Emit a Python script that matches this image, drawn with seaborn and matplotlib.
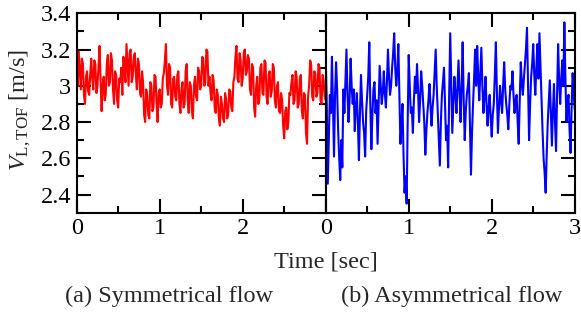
import numpy as np
import pandas as pd
import matplotlib
matplotlib.use("Agg")
import matplotlib.pyplot as plt
from matplotlib.ticker import MultipleLocator
import seaborn as sns

# =========================
# DATA (read from the figure, 0 - 3 s, evenly sampled)
# =========================

t_end = 3.0

v_symmetrical = [
    3.05, 3.00, 3.19, 3.08, 2.98, 3.15, 3.12, 2.95, 2.90, 3.05,
    3.08, 2.97, 2.95, 3.06, 3.15, 3.04, 2.98, 3.14, 3.12, 2.96,
    3.00, 3.10, 3.22, 3.04, 2.86, 3.00, 3.05, 2.92, 2.95, 3.12,
    3.17, 3.00, 3.02, 3.18, 3.14, 2.98, 2.90, 3.08, 3.06, 2.92,
    2.88, 3.04, 3.02, 3.10, 2.95, 3.16, 3.10, 3.02, 3.23, 3.12,
    3.00, 3.18, 3.20, 3.02, 3.05, 3.16, 3.18, 3.06, 2.98, 3.15,
    3.12, 2.96, 2.94, 3.08, 3.02, 2.84, 2.80, 2.98, 2.95, 2.84,
    2.82, 3.02, 3.00, 2.86, 2.88, 3.06, 3.05, 2.90, 2.80, 2.96,
    2.98, 2.88, 2.90, 3.04, 3.07, 3.14, 3.23, 3.00, 2.95, 3.12,
    3.10, 2.90, 2.88, 3.04, 3.05, 2.94, 2.92, 3.06, 3.08, 2.90,
    2.85, 2.98, 3.02, 2.88, 2.90, 3.08, 3.12, 2.92, 2.85, 3.02,
    3.00, 2.86, 2.82, 3.00, 3.05, 2.94, 2.92, 3.10, 3.08, 2.98,
    3.00, 3.16, 3.15, 3.00, 3.02, 3.20, 3.19, 3.00, 3.05, 2.96,
    2.92, 3.06, 3.03, 2.88, 2.85, 2.98, 2.95, 2.82, 2.78, 2.94,
    2.90, 2.82, 2.80, 2.96, 2.93, 2.82, 2.84, 2.98, 2.97, 2.88,
    2.86, 3.02, 3.05, 3.16, 3.22, 3.04, 3.02, 3.18, 3.14, 3.00,
    3.04, 3.18, 3.20, 3.06, 3.08, 3.17, 3.15, 2.98, 2.95, 3.12,
    3.10, 2.88, 2.83, 3.00, 3.05, 2.90, 2.92, 3.10, 3.12, 2.96,
    2.95, 3.14, 3.13, 2.94, 2.90, 3.06, 3.08, 2.94, 2.97, 3.12,
    3.10, 2.92, 2.88, 3.00, 3.02, 2.86, 2.85, 2.96, 2.92, 2.78,
    2.71, 2.86, 2.88, 2.76, 2.80, 2.96, 2.95, 3.02, 3.06, 2.90,
    2.92, 3.08, 3.05, 2.88, 2.90, 3.04, 3.06, 2.86, 2.82, 2.96,
    2.95, 2.74, 2.68, 2.94, 3.00, 3.14, 3.12, 2.94, 2.92, 3.08,
    3.07, 2.94, 2.96, 3.12, 3.10, 2.92, 2.90, 3.06, 3.03, 2.94,
    2.92,
]

v_asymmetrical = [
    3.16, 2.90, 2.46, 2.70, 2.95, 2.85, 3.16, 2.90, 2.61, 2.95,
    3.13, 2.98, 2.75, 2.60, 2.48, 2.70, 2.55, 2.98, 2.85, 3.02,
    3.20, 2.95, 2.80, 2.92, 3.15, 3.00, 2.90, 2.98, 2.75, 2.88,
    2.96, 2.80, 2.59, 2.85, 3.06, 2.92, 2.80, 2.74, 2.61, 2.86,
    2.95, 3.05, 3.24, 2.90, 2.65, 2.84, 2.98, 3.02, 2.85, 2.92,
    2.68, 2.90, 3.11, 3.00, 2.90, 2.96, 3.08, 2.96, 2.88, 3.02,
    3.20, 3.05, 2.95, 3.00, 3.10, 3.18, 3.29, 3.10, 3.00, 3.08,
    3.23, 2.96, 2.68, 2.78, 2.90, 2.62, 2.41, 2.50, 2.35, 2.80,
    3.17, 3.00, 2.85, 2.88, 2.74, 2.92, 3.05, 2.96, 3.12, 2.98,
    2.80, 2.92, 3.08, 3.00, 2.90, 2.80, 2.62, 2.75, 2.85, 2.92,
    3.01, 2.90, 2.78, 2.88, 2.95, 3.08, 3.20, 3.00, 2.85, 2.70,
    2.56, 2.80, 2.95, 3.02, 3.10, 2.90, 2.70, 2.78, 2.55, 2.95,
    3.29, 3.00, 2.74, 2.90, 3.05, 2.96, 2.85, 3.00, 3.14, 2.96,
    2.80, 3.00, 3.24, 2.92, 2.70, 2.86, 2.95, 3.00, 3.07, 2.80,
    2.51, 2.74, 2.90, 3.04, 3.20, 3.00, 3.22, 3.05, 2.92, 3.06,
    3.21, 3.00, 2.85, 2.94, 3.05, 2.90, 2.78, 2.88, 2.95, 2.82,
    2.72, 2.84, 2.90, 3.06, 3.24, 2.96, 2.74, 2.88, 3.00, 2.92,
    2.85, 3.00, 3.13, 2.98, 2.90, 2.84, 2.76, 2.90, 3.00, 2.98,
    3.08, 2.95, 2.85, 2.92, 2.95, 2.80, 2.68, 2.92, 3.13, 3.02,
    2.95, 3.04, 3.12, 3.20, 3.32, 3.00, 2.70, 2.90, 3.05, 3.12,
    3.23, 3.06, 2.95, 3.10, 3.23, 3.04, 3.29, 3.10, 2.93, 2.75,
    2.60, 2.52, 2.41, 2.62, 2.80, 2.92, 3.03, 2.84, 2.67, 2.86,
    3.01, 2.80, 2.64, 2.96, 3.23, 3.02, 2.90, 3.04, 3.14, 3.00,
    3.35, 3.05, 2.80, 2.90, 2.95, 2.76, 2.63, 2.88, 3.07, 2.96,
    2.87,
]

panel_titles = ["(a) Symmetrical flow", "(b) Asymmetrical flow"]
line_colors = ["#ff0000", "#0000ff"]

df_sym = pd.DataFrame({"t": np.linspace(0, t_end, len(v_symmetrical)), "v": v_symmetrical})
df_asym = pd.DataFrame({"t": np.linspace(0, t_end, len(v_asymmetrical)), "v": v_asymmetrical})

# =========================
# STYLE
# =========================

sns.set_theme(style="ticks")
plt.rcParams["font.family"] = ["Liberation Serif", "DejaVu Serif"]
plt.rcParams["mathtext.fontset"] = "custom"
plt.rcParams["mathtext.rm"] = "Liberation Serif"
plt.rcParams["mathtext.it"] = "Liberation Serif:italic"
plt.rcParams["axes.linewidth"] = 1.5
fs = 17.5

# =========================
# FIGURE
# =========================

fig = plt.figure(figsize=(5.81, 3.24), dpi=100)
ax1 = fig.add_axes([0.132, 0.3435, 0.4286, 0.6155])
ax2 = fig.add_axes([0.5606, 0.3435, 0.4286, 0.6155], sharey=ax1)

for ax, df, col in [(ax1, df_sym, line_colors[0]), (ax2, df_asym, line_colors[1])]:
    sns.lineplot(data=df, x="t", y="v", ax=ax, color=col, lw=1.5, estimator=None)
    ax.set_xlim(0, 3)
    ax.set_ylim(2.3, 3.4)
    ax.xaxis.set_major_locator(MultipleLocator(1))
    ax.xaxis.set_minor_locator(MultipleLocator(0.5))
    ax.yaxis.set_major_locator(MultipleLocator(0.2))
    ax.yaxis.set_minor_locator(MultipleLocator(0.1))
    ax.tick_params(which="both", direction="in", top=True, width=1.5,
                   labelsize=fs, colors="black", pad=4)
    ax.tick_params(which="major", length=10)
    ax.tick_params(which="minor", length=5)
    ax.set_xlabel("")
    ax.set_ylabel("")
    for s in ax.spines.values():
        s.set_color("black")
        s.set_linewidth(1.5)

ax1.set_xticks([0, 1, 2, 3])
ax1.set_xticklabels(["0", "1", "2", ""])
ax1.set_yticks([2.4, 2.6, 2.8, 3.0, 3.2, 3.4])
ax1.set_yticklabels(["2.4", "2.6", "2.8", "3", "3.2", "3.4"])
ax1.tick_params(axis="y", which="both", left=True, right=True)
ax2.tick_params(axis="y", which="both", left=False, right=True, labelleft=False)

ax1.set_ylabel(r"$V_{\mathrm{L,TOF}}$ [m/s]", fontsize=fs)
ax1.yaxis.set_label_coords(-0.175, 0.515)

fig.text(0.5606, 0.192, "Time [sec]", ha="center", va="center", fontsize=fs)
fig.text(0.291, 0.084, panel_titles[0], ha="center", va="center", fontsize=fs)
fig.text(0.777, 0.084, panel_titles[1], ha="center", va="center", fontsize=fs)

fig.savefig("out.png", dpi=100)
